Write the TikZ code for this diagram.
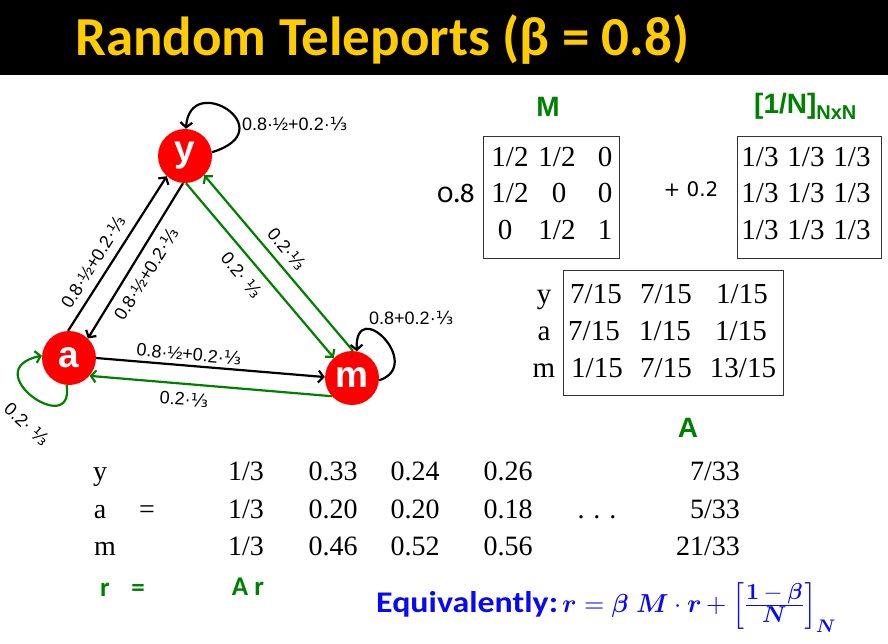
\documentclass[tikz,border=0pt]{standalone}
\usepackage{fontspec}
\usepackage{unicode-math}
\setmainfont{Liberation Serif}
\newfontfamily\arial{Liberation Sans}
\newfontfamily\calib{Carlito}
\newfontfamily\djv{DejaVu Sans}
\newfontfamily\oldf[Numbers=OldStyle]{Fira Sans}
\usetikzlibrary{arrows.meta}
\definecolor{ttl}{RGB}{255,204,0}
\definecolor{grn}{RGB}{0,128,0}
\definecolor{nred}{RGB}{255,0,0}
\definecolor{eqblue}{RGB}{10,10,240}
\newcommand{\fs}[1]{\fontsize{#1}{#1}\selectfont}
\newcommand{\thr}{{\djv ⅓}}
\begin{document}
\begin{tikzpicture}[x=1pt,y=-1pt,
  vert/.style={circle, fill=nred, minimum size=54pt, inner sep=0pt, text=white, font=\arial\bfseries\fs{37}},
  edge/.style={line width=2.2pt, -{Straight Barb[length=5pt,width=12pt]}},
  lbl/.style={font=\arial\fs{18}, inner sep=0pt},
  cell/.style={font=\fs{29}, inner sep=0pt, anchor=base},
  tcell/.style={font=\fs{28}, inner sep=0pt, anchor=base},
  box/.style={draw=black!80, line width=1pt},
  hd/.style={font=\arial\bfseries\fs{28}, text=grn, inner sep=0pt},
  gk/.style={font=\calib\bfseries\fs{27}, text=grn, inner sep=0pt, anchor=base}]
\useasboundingbox (0,0) rectangle (888,644);
\fill[white] (0,0) rectangle (888,644);
\fill[black] (0,0) rectangle (888,75);
\node[anchor=base west, font=\calib\bfseries\fs{55}, text=ttl, inner sep=0pt] (title) at (75,56) {Random Teleports (β = 0.8)};
% graph
\node[vert] (y) at (185,156) {y};
\node[vert] (a) at (69,358) {a};
\node[vert] (m) at (352,378) {m};
\draw[edge] (a.92) -- (y.228);
\draw[edge] (y.266) -- (a.46);
\draw[edge,grn] (y.272) -- (m.132);
\draw[edge,grn] (m.88) -- (y.315);
\draw[edge] (a.0) -- (m.178);
\draw[edge,grn] (m.222) -- (a.319);
\draw[edge] (y.8) .. controls (285,130) and (190,70) .. (y.88);
\draw[edge] (m.-5) .. controls (425,365) and (355,295) .. (m.80);
\draw[edge,grn] (a.265) .. controls (75,440) and (-25,370) .. (a.175);
\node[lbl, anchor=west] (ly) at (242,124) {0.8·½+0.2·\thr};
\node[lbl, anchor=west] (lm) at (369,318) {0.8+0.2·\thr};
\node[lbl, rotate=-42] (la) at (27,424) {0.2· \thr};
\node[lbl, rotate=58] (lay) at (93,262) {0.8·½+0.2·\thr};
\node[lbl, rotate=58] (lya) at (146,274) {0.8·½+0.2·\thr};
\node[lbl, rotate=-50] (lym) at (242,275) {0.2· \thr};
\node[lbl, rotate=-50] (lmy) at (287,249) {0.2·\thr};
\node[lbl, rotate=-5] (lam) at (189,354) {0.8·½+0.2·\thr};
\node[lbl, rotate=-4] (lma) at (184,399) {0.2·\thr};
% M matrix
\node[hd] (hM) at (548,107) {M};
\node[hd, anchor=west] (hN) at (754,106) {[1/N]\raisebox{-6pt}{\fs{20}NxN}};
\draw[box] (483,137) rectangle (619,258);
\node[font=\oldf\fs{27}, inner sep=0pt, anchor=base] (c08) at (456,203) {0.8};
\node[cell] (m11) at (510,167) {1/2};
\node[cell] (m12) at (557,167) {1/2};
\node[cell] (m13) at (605,167) {0};
\node[cell] (m21) at (510,203) {1/2};
\node[cell] (m22) at (559,203) {0};
\node[cell] (m23) at (605,203) {0};
\node[cell] (m31) at (505,240) {0};
\node[cell] (m32) at (557,240) {1/2};
\node[cell] (m33) at (605,240) {1};
\node[font=\djv\fs{20}, inner sep=0pt] (c02) at (691,189) {+ 0.2};
\draw[box] (737,137) rectangle (881,258);
\foreach \r/\yy in {1/167,2/203,3/240}{
  \foreach \c/\xx in {1/760,2/806,3/852}{
    \node[cell] (n\r\c) at (\xx,\yy) {1/3};
  }
}
% A matrix
\draw[box] (563,270) rectangle (783,395);
\node[cell] (ry) at (544,303) {y};
\node[cell] (ra) at (544,340) {a};
\node[cell] (rm) at (544,377) {m};
\node[cell] (a11) at (596,303) {7/15};
\node[cell] (a12) at (666,303) {7/15};
\node[cell] (a13) at (742,303) {1/15};
\node[cell] (a21) at (594,340) {7/15};
\node[cell] (a22) at (665,340) {1/15};
\node[cell] (a23) at (741,340) {1/15};
\node[cell] (a31) at (597,377) {1/15};
\node[cell] (a32) at (666,377) {7/15};
\node[cell] (a33) at (743,377) {13/15};
\node[hd] (hA) at (688,428) {A};
% iteration table
\node[tcell] (ty) at (100,480) {y};
\node[tcell] (ta) at (100,518) {a};
\node[tcell] (teq) at (147,518) {=};
\node[tcell] (tm) at (105,555) {m};
\node[tcell] (t11) at (246,480) {1/3};
\node[tcell] (t12) at (333,480) {0.33};
\node[tcell] (t13) at (415,480) {0.24};
\node[tcell] (t14) at (508,480) {0.26};
\node[tcell, anchor=base east] (t15) at (740,480) {7/33};
\node[tcell] (t21) at (246,518) {1/3};
\node[tcell] (t22) at (333,518) {0.20};
\node[tcell] (t23) at (415,518) {0.20};
\node[tcell] (t24) at (508,518) {0.18};
\node[tcell] (tdots) at (597,518) {.\hspace{9pt}.\hspace{9pt}.};
\node[tcell, anchor=base east] (t25) at (740,518) {5/33};
\node[tcell] (t31) at (246,555) {1/3};
\node[tcell] (t32) at (333,555) {0.46};
\node[tcell] (t33) at (415,555) {0.52};
\node[tcell] (t34) at (508,555) {0.56};
\node[tcell, anchor=base east] (t35) at (740,555) {21/33};
% bottom formulas
\node[gk] (br) at (105,596) {r};
\node[gk] (beq) at (138,596) {=};
\node[gk] (bar) at (248,595) {A r};
\node[anchor=base west, inner sep=0pt, text=eqblue, font=\calib\bfseries\fs{30}] (eqv) at (376,612)
  {\scalebox{1.13}[1]{Equivalently:}\,{\fs{26}$\symbfit{r} = \symbfit{\beta}\;\symbfit{M}\cdot\symbfit{r}+\left[\frac{\hbox{\fs{23}$\symbf{1}\boldsymbol{-}\symbfit{\beta}$}}{\hbox{\fs{23}$\symbfit{N}$}}\right]_{\symbfit{N}}$}};
\end{tikzpicture}
\end{document}
